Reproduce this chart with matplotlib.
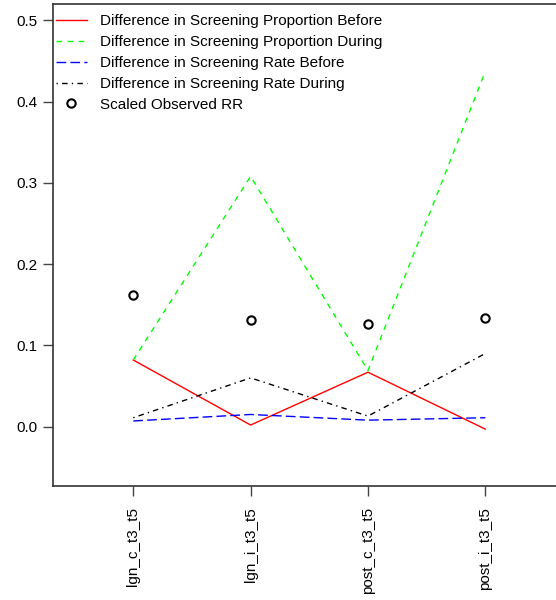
import matplotlib
matplotlib.use("Agg")
import matplotlib.pyplot as plt

plt.rcParams['font.family'] = ['Liberation Sans', 'DejaVu Sans']

categories = ["lgn_c_t3_t5", "lgn_i_t3_t5", "post_c_t3_t5", "post_i_t3_t5"]
prop_before = [0.082, 0.002, 0.067, -0.003]
prop_during = [0.082, 0.308, 0.069, 0.437]
rate_before = [0.007, 0.015, 0.008, 0.011]
rate_during = [0.011, 0.060, 0.013, 0.090]
scaled_rr = [0.162, 0.131, 0.126, 0.134]
yticks = [0.0, 0.1, 0.2, 0.3, 0.4, 0.5]


def main():
    fig = plt.figure(figsize=(5.56, 6.0), dpi=100)
    ax = fig.add_axes([53 / 556, 114 / 600, 1.0 - 53 / 556 + 0.01, 482 / 600])

    x = list(range(1, len(categories) + 1))
    ax.plot(x, prop_before, color='#FF0000', lw=1, ls='-',
            label="Difference in Screening Proportion Before")
    ax.plot(x, prop_during, color='#00FF00', lw=1, ls=(0, (4, 4)),
            label="Difference in Screening Proportion During")
    ax.plot(x, rate_before, color='#0000FF', lw=1, ls=(0, (7, 3)),
            label="Difference in Screening Rate Before")
    ax.plot(x, rate_during, color='black', lw=1, ls=(0, (1, 3, 4, 3)),
            label="Difference in Screening Rate During")
    ax.plot(x, scaled_rr, ls='none', marker='o', ms=6, mfc='none', mec='black',
            mew=1.5, label="Scaled Observed RR")

    ax.set_xlim(0.316, 4.65)
    ax.set_ylim(-0.073, 0.52)
    ax.set_yticks(yticks)
    ax.set_yticklabels([f"{v:.1f}" for v in yticks], fontsize=11)
    ax.set_xticks(x)
    ax.set_xticklabels(categories, rotation=90, fontsize=11, va='top')
    ax.tick_params(axis='both', direction='out', length=7, width=1, color='#444444')
    ax.tick_params(axis='y', pad=4)
    ax.tick_params(axis='x', pad=8)
    for s in ax.spines.values():
        s.set_color('#333333')
        s.set_linewidth(1.2)
    ax.spines['right'].set_visible(False)

    ax.legend(loc='upper left', bbox_to_anchor=(0.0, 0.985), frameon=False,
              fontsize=11, handlelength=2.0, handletextpad=0.9,
              labelspacing=0.45, borderaxespad=0.1, borderpad=0.1)

    fig.savefig("out.png", dpi=100)


if __name__ == '__main__':
    main()
